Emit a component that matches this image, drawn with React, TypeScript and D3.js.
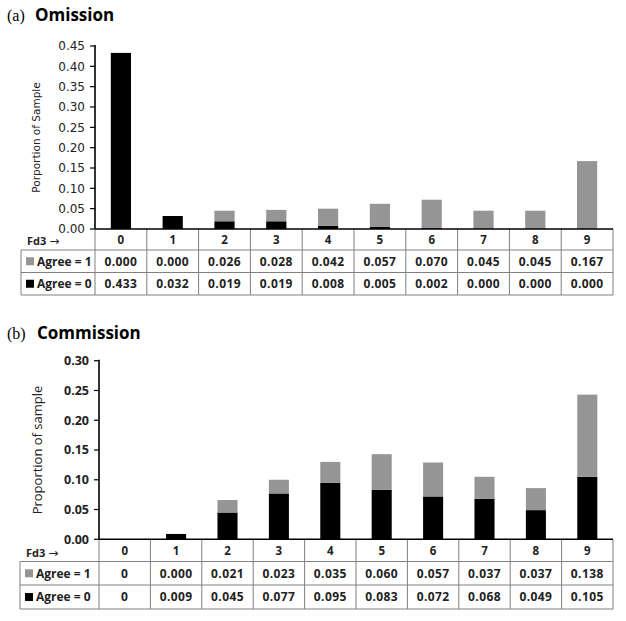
import React from 'react';
import * as d3 from 'd3';

const categories = ['0', '1', '2', '3', '4', '5', '6', '7', '8', '9'];

const omissionAgree1 = [0.0, 0.0, 0.026, 0.028, 0.042, 0.057, 0.07, 0.045, 0.045, 0.167];
const omissionAgree0 = [0.433, 0.032, 0.019, 0.019, 0.008, 0.005, 0.002, 0.0, 0.0, 0.0];
const omissionTicks = [0, 0.05, 0.1, 0.15, 0.2, 0.25, 0.3, 0.35, 0.4, 0.45];

const commissionAgree1 = [0, 0.0, 0.021, 0.023, 0.035, 0.06, 0.057, 0.037, 0.037, 0.138];
const commissionAgree0 = [0, 0.009, 0.045, 0.077, 0.095, 0.083, 0.072, 0.068, 0.049, 0.105];
const commissionTicks = [0, 0.05, 0.1, 0.15, 0.2, 0.25, 0.3];

const seriesNames = ['Agree = 1', 'Agree = 0'];

const GRAY = '#959595';
const BLACK = '#000000';
const GRID = '#808080';
const TABLE_FONT = '"Open Sans", sans-serif';

type PanelProps = {
  letter: string;
  title: string;
  titleY: number;
  titleX2: number;
  agree1: number[];
  agree0: number[];
  ticks: number[];
  yMax: number;
  yBottom: number;
  yTop: number;
  xLeft: number;
  xRight: number;
  rowLines: number[];
  tableLeft: number;
  yLabel: string;
  yLabelX: number;
  tickFont: string;
  tickWeight: number;
  tickSize: number;
  labelFont: string;
  labelSize: number;
  labelWeight: number;
  firstZeroInt: boolean;
};

function Panel(p: PanelProps) {
  const x = d3.scaleBand<string>().domain(categories).range([p.xLeft, p.xRight]).padding(0);
  const y = d3.scaleLinear().domain([0, p.yMax]).range([p.yBottom, p.yTop]);
  const bw = x.bandwidth();
  const barW = bw * 0.39;
  const fmt = d3.format('.2f');
  const vfmt = d3.format('.3f');
  const cellText = (v: number, i: number) => (p.firstZeroInt && i === 0 && v === 0 ? '0' : vfmt(v));
  const [h0, h1, h2, h3] = p.rowLines;
  const rowsY = [(h1 + h2) / 2, (h2 + h3) / 2];
  const rowsData = [p.agree1, p.agree0];
  const colors = [GRAY, BLACK];

  return (
    <g>
      <text x={7} y={p.titleY} fontFamily='"Liberation Serif", serif' fontSize={16}>
        {p.letter}
      </text>
      <text x={p.titleX2} y={p.titleY} fontFamily={TABLE_FONT} fontWeight={700} fontSize={17}>
        {p.title}
      </text>

      {categories.map((c, i) => {
        const b0 = p.agree0[i];
        const b1 = p.agree1[i];
        const bx = (x(c) as number) + (bw - barW) / 2;
        return (
          <g key={c}>
            {b0 > 0 && <rect x={bx} y={y(b0)} width={barW} height={y(0) - y(b0)} fill={BLACK} />}
            {b1 > 0 && <rect x={bx} y={y(b0 + b1)} width={barW} height={y(b0) - y(b0 + b1)} fill={GRAY} />}
          </g>
        );
      })}

      <line x1={p.xLeft} x2={p.xLeft} y1={y(p.yMax) - 1} y2={p.yBottom} stroke="#000" strokeWidth={1.6} />
      {p.ticks.map((t) => (
        <g key={t}>
          <line x1={p.xLeft - 5} x2={p.xLeft} y1={y(t)} y2={y(t)} stroke="#000" strokeWidth={1.2} />
          <text
            x={p.xLeft - 10}
            y={y(t)}
            dy="0.35em"
            textAnchor="end"
            fontFamily={p.tickFont}
            fontWeight={p.tickWeight}
            fontSize={p.tickSize}
            fill="#222"
          >
            {fmt(t)}
          </text>
        </g>
      ))}
      <text
        transform={`translate(${p.yLabelX},${(p.yTop + p.yBottom) / 2}) rotate(-90)`}
        textAnchor="middle"
        dy="0.35em"
        fontFamily={p.labelFont}
        fontSize={p.labelSize}
        fontWeight={p.labelWeight}
        fill="#222"
      >
        {p.yLabel}
      </text>

      <line x1={p.tableLeft} x2={p.xRight} y1={h1} y2={h1} stroke={GRID} strokeWidth={1} />
      <line x1={p.tableLeft} x2={p.xRight} y1={h2} y2={h2} stroke={GRID} strokeWidth={1} />
      <line x1={p.tableLeft} x2={p.xRight} y1={h3} y2={h3} stroke={GRID} strokeWidth={1} />
      <line x1={p.tableLeft} x2={p.tableLeft} y1={h1} y2={h3} stroke={GRID} strokeWidth={1} />
      {categories.map((c) => (
        <line key={c} x1={x(c) as number} x2={x(c) as number} y1={h0} y2={h3} stroke={GRID} strokeWidth={1} />
      ))}
      <line x1={p.xRight} x2={p.xRight} y1={h0} y2={h3} stroke={GRID} strokeWidth={1} />
      <line x1={p.xLeft} x2={p.xRight} y1={p.yBottom} y2={p.yBottom} stroke="#000" strokeWidth={1.6} />

      <text x={p.tableLeft + 6} y={h1 - 5} fontFamily={TABLE_FONT} fontWeight={700} fontSize={11} fill="#222">
        Fd3{' '}
        <tspan fontFamily='"DejaVu Sans", sans-serif' fontWeight={400} fontSize={12}>
          →
        </tspan>
      </text>
      {categories.map((c) => (
        <text
          key={c}
          x={(x(c) as number) + bw / 2}
          y={(h0 + h1) / 2}
          dy="0.36em"
          textAnchor="middle"
          fontFamily={TABLE_FONT}
          fontWeight={700}
          fontSize={11.5}
          fill="#222"
        >
          {c}
        </text>
      ))}
      {rowsData.map((row, r) => (
        <g key={r}>
          <rect x={p.tableLeft + 5} y={rowsY[r] - 4} width={8} height={8} fill={colors[r]} />
          <text
            x={p.tableLeft + 16}
            y={rowsY[r]}
            dy="0.36em"
            fontFamily={TABLE_FONT}
            fontWeight={700}
            fontSize={12}
            fill="#222"
          >
            {seriesNames[r]}
          </text>
          {row.map((v, i) => (
            <text
              key={i}
              x={(x(categories[i]) as number) + bw / 2}
              y={rowsY[r]}
              dy="0.36em"
              textAnchor="middle"
              fontFamily={TABLE_FONT}
              fontWeight={700}
              fontSize={12}
              letterSpacing={0.4}
              fill="#222"
            >
              {cellText(v, i)}
            </text>
          ))}
        </g>
      ))}
    </g>
  );
}

export default function App() {
  return (
    <svg
      width={626}
      height={621}
      style={{ position: 'absolute', left: 0, top: 0, background: '#fff' }}
    >
      <Panel
        letter="(a)"
        title="Omission"
        titleY={21}
        titleX2={35}
        agree1={omissionAgree1}
        agree0={omissionAgree0}
        ticks={omissionTicks}
        yMax={0.45}
        yBottom={229}
        yTop={46}
        xLeft={95}
        xRight={613}
        rowLines={[229, 250, 272.5, 295]}
        tableLeft={21}
        yLabel="Porportion of Sample"
        yLabelX={36}
        tickFont='"DejaVu Sans", sans-serif'
        tickWeight={400}
        tickSize={12}
        labelFont='"DejaVu Sans", sans-serif'
        labelSize={10.5}
        labelWeight={400}
        firstZeroInt={false}
      />
      <Panel
        letter="(b)"
        title="Commission"
        titleY={339}
        titleX2={37}
        agree1={commissionAgree1}
        agree0={commissionAgree0}
        ticks={commissionTicks}
        yMax={0.3}
        yBottom={539.3}
        yTop={360.7}
        xLeft={99}
        xRight={613}
        rowLines={[539.3, 561.5, 585, 609]}
        tableLeft={20}
        yLabel="Proportion of sample"
        yLabelX={37}
        tickFont={TABLE_FONT}
        tickWeight={700}
        tickSize={12.5}
        labelFont={TABLE_FONT}
        labelSize={13}
        labelWeight={400}
        firstZeroInt={true}
      />
    </svg>
  );
}
